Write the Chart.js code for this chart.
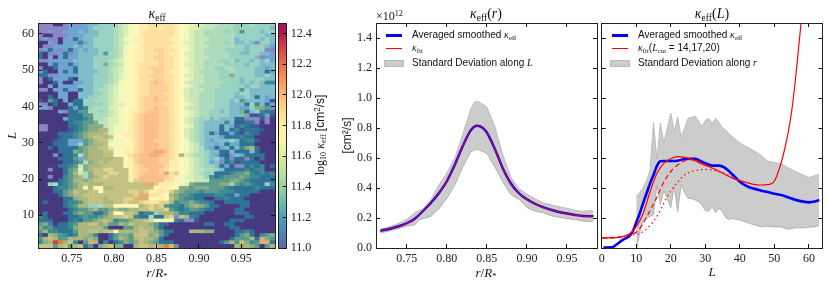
<!DOCTYPE html>
<html>
<head>
<meta charset="utf-8">
<script src="https://cdn.jsdelivr.net/npm/chart.js@4"></script>
<style>
body { margin: 0; background: #fff; width: 830px; height: 287px; overflow: hidden; position: relative; }
.box { position: absolute; top: 0; height: 287px; }
canvas { filter: blur(0.35px); }
.t { position: absolute; white-space: nowrap; color: #111; line-height: 1; }
.serif { font-family: "Liberation Serif", serif; }
.sans { font-family: "Liberation Sans", sans-serif; font-size: 10px; }
.title { font-size: 14px; top: 7px; transform: translateX(-50%); }
.xl { font-size: 13px; top: 266px; transform: translateX(-50%); }
i { font-style: italic; }
sub { font-size: .68em; vertical-align: -.28em; line-height: 0; font-family: "Liberation Serif", serif; }
sup { font-size: .68em; vertical-align: .45em; line-height: 0; }
.ln { position: absolute; }
</style>
</head>
<body>
<div class="box" style="left:0;width:278px"><canvas id="heat" width="278" height="287"></canvas></div>
<div class="box" style="left:278px;width:60px"><canvas id="cbar" width="60" height="287"></canvas></div>
<div class="box" style="left:338px;width:262px"><canvas id="byR" width="262" height="287"></canvas></div>
<div class="box" style="left:597px;width:233px"><canvas id="byL" width="233" height="287"></canvas></div>

<div class="t serif title" style="left:157px"><i>κ</i><sub>eff</sub></div>
<div class="t serif title" style="left:486px"><i>κ</i><sub>eff</sub>(<i>r</i>)</div>
<div class="t serif title" style="left:712px"><i>κ</i><sub>eff</sub>(<i>L</i>)</div>
<div class="t serif xl" style="left:157px"><i>r</i>/<i>R</i><sub>*</sub></div>
<div class="t serif xl" style="left:486px"><i>r</i>/<i>R</i><sub>*</sub></div>
<div class="t serif" style="left:376px;top:10px;font-size:12px">×10<sup>12</sup></div>
<div class="t serif" style="left:320px;top:135px;font-size:12px;transform:translate(-50%,-50%) rotate(-90deg)">log<sub>10</sub> <i>κ</i><sub>eff</sub> <span style="font-family:'Liberation Sans'">[cm<sup>2</sup>/s]</span></div>

<div class="ln" style="left:386px;top:34px;width:16px;height:2.5px;background:#00f"></div>
<div class="t sans" style="left:412px;top:30px">Averaged smoothed <i class="serif">κ</i><sub>eff</sub></div>
<div class="ln" style="left:386px;top:48px;width:16px;height:1px;background:#f00"></div>
<div class="t sans" style="left:412px;top:43px"><i class="serif">κ</i><sub>fit</sub></div>
<div class="ln" style="left:384px;top:60px;width:20px;height:7px;background:#ccc;border:1px solid #bbb;box-sizing:border-box"></div>
<div class="t sans" style="left:412px;top:58px">Standard Deviation along <i class="serif">L</i></div>

<div class="ln" style="left:612px;top:34px;width:16px;height:2.5px;background:#00f"></div>
<div class="t sans" style="left:638px;top:30px">Averaged smoothed <i class="serif">κ</i><sub>eff</sub></div>
<div class="ln" style="left:612px;top:48px;width:16px;height:1px;background:#f00"></div>
<div class="t sans" style="left:638px;top:43px"><i class="serif">κ</i><sub>fit</sub>(<i class="serif">L</i><sub>cut</sub> = 14,17,20)</div>
<div class="ln" style="left:610px;top:60px;width:20px;height:7px;background:#ccc;border:1px solid #bbb;box-sizing:border-box"></div>
<div class="t sans" style="left:638px;top:58px">Standard Deviation along <i class="serif">r</i></div>

<script>
// ---------- heatmap: one code per cell, rows go from L=62 down to L=1 ----------
var heatR = [0.7133,0.7192,0.7252,0.7311,0.7371,0.7430,0.7489,0.7549,0.7608,0.7668,0.7727,0.7787,0.7846,0.7906,0.7965,0.8025,0.8084,0.8143,0.8203,0.8262,0.8322,0.8381,0.8441,0.8500,0.8560,0.8619,0.8679,0.8738,0.8797,0.8857,0.8916,0.8976,0.9035,0.9095,0.9154,0.9214,0.9273,0.9333,0.9392,0.9451,0.9511,0.9570,0.9630,0.9689,0.9749,0.9808,0.9868];
var heatRows = [
"aaaAA abbbb ccddd efghi jjkkk kkjih hggff feeed ddedd dd",
"aaaaa abbbb cdddd efghi jjkkj kkjih ggfff eeeed ddddd dc",
"aabaa bbbcb ccddd efgii jkkkk kkjih gffee eeded Edddc dd",
"aAAaa abbbc ccddd efghi jkkkk kkjih gffee eeeed ddddd cc",
"abaaA bbCbc cdddd efhij jkkkk kjjih gfffe eeeec ddddc dc",
"AAbaA bbbDb cdddd efgij jkkkk kkjhg gffee eedec cdcad dc",
"Aaabb bbcbc cdddd efhii jkkkk kjjih gfffe eeeed dcddd cb",
"abCba bCbcb ccddd efhij jkkll kkjih gffee eeddd dcddd aa",
"CAaab Cabcc ccdEe efhii jkkkl kjjig gffee eeedd ccddc cb",
"CAbAb Cbbcc cdddd efhij jkkll kkjih gfffe eeedd dddca bb",
"aabbb bbccc cddde fghij jkkkl kkjih gffee eddec ddcdc db",
"AAbCb bCbcc cddFe efhij kkkkl kkjig gffee eeddd dcddc cc",
"aAACb bbCcc cddde fghij kklll kkjih gffee ddeed dddcc bc",
"bCAAb CbCcc ccdde fghij kkkll kjjih gfeee edded dddcc Cb",
"CCaab bbbcc cddde fghij kklll kkjig gffee eddFd dddcc dc",
"aACbb bCAcc cddde fghii kkkll kkjih gffee edddd cdddd cc",
"aAACb AAbbc cddde fhiij kklml kkjig fffee eeddd cdcdc DD",
"AAbAb bbbcc cddef ghiij kklll lkjih gfeee edddd dcddc cc",
"aaAbb CbbCc cdeef ghiij kklll lkjig fffee ddddd Edccc cc",
"AAAAb bAAcc cddef ghhij kklll kkjhg ffeee ddddc ddccc cc",
"AACAb bAAcc ddeef ghiij kllml lkjig ffeee ddddc cdcCc bc",
"BAECA bACCd deeef ghiij kllml lkjig ffeee dddcd Ecccc bB",
"aaACA AbCCd dddef gghii kllll kkjih gfeee dddcc cCdDc Cb",
"bbaAA ACbCD deeeg ghiij kllml lkjig ffeee dddcc bbdFF Ea",
"AAAAb aCCEE eedef ghijj klmml lkjih gfeed dcdcc FCcdD CC",
"AAAAA ACCCE Eeeef ghijk lmmml lkjih gfeed dddcc cFBBC bB",
"AAAAA bCCCD Eeefg ghijk lmmml lkjig fedec dcccC CaaaB aA",
"AAAAA ACDDE EFffg ghijk lmmml lkjig fedcc ccDcB BCCaA aA",
"aaAAA ACCDE FFFfg hhijk lmmml lkjih gedcc cCcbC DCBBA AA",
"aaAAA ABCDE FFGGg hhijk lmmml lkjig fedcc cCcCD BCCCB AA",
"AAAAC CCDEF GGGHg hijjk lmmml lkjig fedcC bCCbC BDCCA AA",
"AAAAB CCDEF GHHGH hijjk lmmml lkjig fedcc cbCCC DCCAA AA",
"AAABC CbbbE FGHHg hhijk lmmll lkjih fedcb cccdc CDDBA AA",
"AAACC CbbdE FGGHh hhiik lmmml lkjih gfdcc bcCbb CCCAA AA",
"AACAC CCCEF GGHHg hijjk lmmml lkjih gfecb CbcCc DFGCA AA",
"AAAAC CCFEF GGGHH hijjk lmmnn mkjih gfedc cCCcC CCcCA AA",
"AAAaA CCDeF GGGHH iijkl mmnnm lkjGg feedc bCBbc bCCCC AA",
"AAAAC CCEbF GGGGG HHijl mmmml lkjih gfedc dbCaC CaCAC AA",
"AAAAA CCDEe FGHGH HHijl mmmml ljjih gfedb caCDB CCCCA AA",
"AAAAC CDEfF GGGHH HHijk lmmmm ljjih gfedd cCbBa aCDCD AC",
"AAaAA CEFgF GHHII HHHjk llmml kjjih gffee dcCCC CDCDD AA",
"AAAAA CEGfe FHHHI IHHjk lmmml JkIih gfedd CCCDE EFDCD CD",
"AAaAA DEFGe FGHIH HHHjk mmmmm lkjhg gffdD CDEEE FEDDC CC",
"AAAAC DEGGF GHHHH HHHjI mmmmm kkjih gfffE EEEFF EDCCC CC",
"AAdeC DEFGH GGGHH HHHHH HJJIj jjihg FEEEE EFFdE DEDCC dD",
"AAACD DEFGh GiiGG HHHHH HHHij jihFF EFFFE EEDCC CCCDC CC",
"AAACC EFHGG HHiHH HHHII HIjjk jIGFE EEDEE EDDDC CCCCA AA",
"AAAAC EFGGH HHHHH HHHHI JJkkj iGFEE DCCCC DDCCb CCAAA AA",
"AAAAA CCFGG HHHGH HHIIJ JJiij iHFED DCCAA CCDCC CAAAA AA",
"ACAAA CDDEG HHHGG HHIHH IkkkI IGDEE FEDDC AACCC CCAAA AA",
"AAAAA CDEGG ddeHH iiiii GHIHI EDDCE FGFEC CAAAA CCAAA AA",
"AAAAA ACDEE FGEEF GFFGG HHIHH IEDCD EEDCC AAAAC CAAAA AA",
"ACAAA CCEFE ECCEG iiHHG CDDdG GGFDD CCCAA AAAAC CCAAA AA",
"DCAAA ACCDE DDEFG HHIHD CCeCC HIaHG DCAAA AAAAA ACCAA AA",
"CCCAA ACDCE EFGHG DEEFG GHIii iiDCa aBAAA AAACC CAAAA AA",
"EFDAC CDEGG HHFGE EGFHG GGFEC CAAAA AAACC AACCA AAAAA AA",
"FDECC CDFGG GGGEA AAEEG HGGEC AAAAA AAAAA AAACC AAAAA AA",
"EGDDC CCEGG HHGHH iGGGG HHGFE CCAAA GGGFF AAAAC CDCAA AA",
"CAGFE DCDGG FDAAC EFFEH HHFGE CAAAA AAAAA AAAAC EFCAD EF",
"EGHGE EGGGF GFAAC EGFEG HGGFC AAAAA AAAAA AAACE EEGCJ FE",
"DFGRS GHDAE JGADA CDFEF HGFEC CCAAA AAAAA ACEGE HFDEJ JC",
"HHHEG HEGHC EAFGH FFAAG HHGJG SJEAA AAAAA AAAAG FGFEA EG"
];
var heatColors = {
  a:"#8a86c6", b:"#6fa4d2", c:"#7fbcca", d:"#98d2c2", e:"#acdcbc", f:"#c4e6b8", g:"#dcf0b4",
  h:"#f0f8bc", i:"#fcf8bc", j:"#feeeb0", k:"#fee0a0", l:"#fdd09a", m:"#fbbf8c", n:"#f8aa78",
  A:"#47397f", B:"#3d5a94", C:"#2f7396", D:"#3b8a90", E:"#5c9a8c", F:"#86ab85", G:"#aab87f",
  H:"#c4c283", I:"#e0d48c", J:"#ddb070", R:"#c8403c", S:"#e08040"
};
var cbarStops = [[11.0,"#6a62aa"],[11.1,"#4c86b8"],[11.2,"#4fa0b8"],[11.3,"#6cbfae"],[11.4,"#96d2a8"],[11.5,"#bde2a0"],[11.6,"#dcec9c"],[11.7,"#f2f6a8"],[11.8,"#fdf0a0"],[11.9,"#fdd98c"],[12.0,"#fbb872"],[12.1,"#f79658"],[12.2,"#ee6e48"],[12.3,"#d84450"],[12.4,"#b81a50"],[12.47,"#a0184f"]];

// ---------- kappa(r), units of 1e12 ----------
var rVals   = [0.717,0.73,0.74,0.75,0.76,0.77,0.78,0.79,0.80,0.81,0.82,0.83,0.838,0.845,0.85,0.86,0.87,0.88,0.89,0.90,0.91,0.92,0.93,0.94,0.95,0.96,0.97,0.98,0.983];
var rMean   = [0.115,0.13,0.145,0.165,0.195,0.245,0.30,0.365,0.445,0.555,0.68,0.785,0.815,0.80,0.77,0.66,0.53,0.43,0.365,0.325,0.295,0.272,0.255,0.24,0.23,0.22,0.213,0.212,0.213];
var rFit    = [0.115,0.13,0.145,0.165,0.195,0.245,0.30,0.365,0.445,0.555,0.68,0.785,0.815,0.80,0.77,0.66,0.53,0.43,0.365,0.325,0.295,0.272,0.255,0.24,0.23,0.22,0.213,0.212,0.213];
var rBandX  = [0.717,0.73,0.74,0.75,0.76,0.765,0.77,0.78,0.79,0.80,0.81,0.82,0.83,0.835,0.84,0.85,0.86,0.87,0.88,0.89,0.90,0.91,0.92,0.93,0.94,0.95,0.96,0.97,0.98,0.983];
var rUpper  = [0.125,0.145,0.165,0.19,0.235,0.25,0.26,0.32,0.42,0.50,0.60,0.76,0.93,0.975,0.975,0.94,0.81,0.62,0.47,0.395,0.36,0.33,0.30,0.29,0.275,0.265,0.25,0.245,0.25,0.245];
var rLower  = [0.10,0.115,0.13,0.145,0.155,0.185,0.195,0.21,0.26,0.33,0.42,0.54,0.64,0.655,0.655,0.63,0.54,0.44,0.355,0.325,0.27,0.245,0.235,0.215,0.205,0.195,0.19,0.18,0.175,0.18];

// ---------- kappa(L) ----------
var lMeanX  = [0.5,3,4,6,8,9,10,11,12,13,14,15,16,17,18,20,22,24,26,27,28,30,32,34,36,38,40,42,44,46,48,50,52,54,56,58,60,62,63];
var lMean   = [0.003,0.004,0.018,0.053,0.08,0.11,0.17,0.23,0.30,0.365,0.43,0.487,0.547,0.578,0.58,0.58,0.582,0.593,0.595,0.595,0.587,0.565,0.549,0.549,0.529,0.487,0.442,0.413,0.396,0.384,0.373,0.362,0.353,0.338,0.322,0.311,0.304,0.311,0.32];
var fit14X  = [0,4,6,8,10,12,14,16,18,20,22,24,26,28,30,32,34,36,38,40,42,44,46,48,50,51,52,53,54,55,56,57,58];
var fit14   = [0.067,0.069,0.076,0.093,0.142,0.23,0.375,0.498,0.564,0.595,0.609,0.604,0.591,0.571,0.551,0.533,0.511,0.487,0.464,0.449,0.436,0.424,0.42,0.422,0.445,0.50,0.57,0.66,0.77,0.91,1.10,1.33,1.56];
var fit17X  = [0,4,8,10,12,14,16,18,20,22,24,26,28,30,32];
var fit17   = [0.067,0.069,0.09,0.105,0.164,0.25,0.34,0.44,0.51,0.553,0.58,0.589,0.578,0.555,0.535];
var fit20X  = [0,4,8,10,12,14,16,18,20,22,24,26,28,30,32,34,36,38];
var fit20   = [0.067,0.069,0.085,0.09,0.11,0.15,0.21,0.30,0.38,0.44,0.487,0.51,0.52,0.524,0.52,0.51,0.493,0.469];
var lBandX  = [10,11,12,13,14,15,16,17,18,19,20,21,22,23,24,25,26,27,28,29,30,31,32,33,34,35,36,37,38,39,40,42,44,46,48,50,52,54,56,58,60,62,63];
var lUpper  = [0.34,0.37,0.40,0.45,0.52,0.835,0.59,0.835,0.70,0.80,0.90,0.775,0.875,0.74,0.80,0.865,0.87,0.88,0.85,0.81,0.85,0.865,0.83,0.865,0.835,0.80,0.785,0.76,0.74,0.72,0.70,0.675,0.65,0.62,0.58,0.57,0.56,0.535,0.51,0.49,0.47,0.485,0.49];
var lLower  = [-0.02,0.10,0.18,0.20,0.21,0.22,0.42,0.29,0.38,0.33,0.267,0.41,0.24,0.42,0.37,0.33,0.33,0.32,0.31,0.287,0.25,0.245,0.275,0.235,0.265,0.24,0.20,0.19,0.198,0.19,0.187,0.17,0.155,0.142,0.145,0.14,0.14,0.124,0.135,0.133,0.138,0.142,0.15];

var serif = { family: '"Liberation Serif", serif', size: 12 };
var BLUE = "#0000ff", RED = "#ff0000", BAND = "rgba(128,128,128,0.4)", BAND_EDGE = "#b4b4b4";

function pts(xs, ys) {
  return xs.map(function(x, i) { return { x: x, y: ys[i] }; });
}
// fixed axis size, and no extra room for the first and last tick label
function pin(size) {
  return function(s) {
    if (s.isHorizontal()) s.height = size; else s.width = size;
    s.paddingLeft = s.paddingRight = s.paddingTop = s.paddingBottom = 0;
  };
}
// matplotlib look: inward ticks and a frame on top of the marks
function axis(pos, size, min, max, step, digits, hideLabels, title) {
  var o = {
    type: "linear", position: pos, min: min, max: max, afterFit: pin(size), offset: false,
    grid: { drawOnChartArea: false, tickLength: -4, color: "#111", z: 1, offset: false },
    border: { color: "#222", width: 1, z: 1 },
    ticks: {
      display: !hideLabels, stepSize: step, includeBounds: false, autoSkip: false,
      maxRotation: 0, font: serif, color: "#222", padding: 8,
      callback: function(v) { return v.toFixed(digits); }
    }
  };
  if (title) o.title = title;
  return o;
}
function lineSet(data, color, width, extra) {
  return Object.assign({
    data: data, borderColor: color, borderWidth: width, pointRadius: 0,
    fill: false, cubicInterpolationMode: "monotone"
  }, extra || {});
}
function bandSets(xs, up, low) {
  var edge = { backgroundColor: BAND, cubicInterpolationMode: "default", tension: 0 };
  return [
    lineSet(pts(xs, up), BAND_EDGE, 0.8, Object.assign({ fill: "+1" }, edge)),
    lineSet(pts(xs, low), BAND_EDGE, 0.8, edge)
  ];
}
var base = { responsive: false, animation: false, devicePixelRatio: 1, plugins: { legend: { display: false }, tooltip: { enabled: false } } };
function opts(pad, scales) {
  return Object.assign({}, base, { layout: { padding: pad }, scales: scales });
}
var italic13 = { family: serif.family, size: 13, style: "italic" };

// heatmap
var cells = [], cellColors = [];
heatRows.forEach(function(row, i) {
  var codes = row.replace(/ /g, "");
  for (var c = 0; c < codes.length; c++) {
    cells.push({ x: heatR[c], y: [62 - i, 63 - i] });
    cellColors.push(heatColors[codes[c]]);
  }
});
new Chart(document.getElementById("heat"), {
  type: "bar",
  data: { datasets: [{ data: cells, backgroundColor: cellColors, borderWidth: 0, barPercentage: 1, categoryPercentage: 1 }] },
  options: opts({ top: 23, right: 3 }, {
    x: axis("bottom", 39, 0.7103, 0.9897, 0.05, 2, false),
    y: axis("left", 38, 1, 63, 10, 0, false, { display: true, text: "L", font: italic13, color: "#222", padding: { top: 5, bottom: 0 } }),
    xTop: axis("top", 0, 0.7103, 0.9897, 0.05, 2, true),
    yRight: axis("right", 0, 1, 63, 10, 0, true)
  })
});

// colorbar
new Chart(document.getElementById("cbar"), {
  type: "bar",
  data: {
    labels: [""],
    datasets: [{
      data: [[11.0, 12.47]], yAxisID: "y", borderWidth: 0, barPercentage: 1, categoryPercentage: 1,
      backgroundColor: function(ctx) {
        var a = ctx.chart.chartArea;
        if (!a) return "#ccc";
        var g = ctx.chart.ctx.createLinearGradient(0, a.bottom, 0, a.top);
        cbarStops.forEach(function(s) { g.addColorStop(Math.min(1, (s[0] - 11) / 1.47), s[1]); });
        return g;
      }
    }]
  },
  options: opts({ top: 23, bottom: 39, left: 0.5 }, {
    x: { position: "bottom", afterFit: pin(0), grid: { display: false }, ticks: { display: false }, border: { color: "#222", z: 1 } },
    xTop: { type: "linear", position: "top", afterFit: pin(0), grid: { display: false }, ticks: { display: false }, border: { color: "#222", z: 1 } },
    yLeft: { type: "linear", position: "left", min: 11, max: 12.47, afterFit: pin(0), grid: { display: false }, ticks: { display: false }, border: { color: "#222", z: 1 } },
    y: axis("right", 51.3, 11, 12.47, 0.2, 1, false)
  })
});

// kappa(r)
new Chart(document.getElementById("byR"), {
  type: "line",
  data: { datasets: [
    lineSet(pts(rVals, rFit), RED, 1),
    lineSet(pts(rVals, rMean), BLUE, 2.4)
  ].concat(bandSets(rBandX, rUpper, rLower)) },
  options: opts({ top: 23, right: 3 }, {
    x: axis("bottom", 39, 0.7116, 0.9875, 0.05, 2, false),
    y: axis("left", 38, 0, 1.5, 0.2, 1, false, { display: true, text: "[cm²/s]", font: { family: '"Liberation Sans", sans-serif', size: 12 }, color: "#222", padding: { top: 2, bottom: 0 } }),
    xTop: axis("top", 0, 0.7116, 0.9875, 0.05, 2, true),
    yRight: axis("right", 0, 0, 1.5, 0.2, 1, true)
  })
});

// kappa(L)
new Chart(document.getElementById("byL"), {
  type: "line",
  data: { datasets: [
    lineSet(pts(fit14X, fit14), RED, 1.2),
    lineSet(pts(fit17X, fit17), RED, 1.2, { borderDash: [5, 3] }),
    lineSet(pts(fit20X, fit20), RED, 1.2, { borderDash: [1.5, 3] }),
    lineSet(pts(lMeanX, lMean), BLUE, 2.6)
  ].concat(bandSets(lBandX, lUpper, lLower)) },
  options: opts({ top: 23, left: 4.7, right: 7.3 }, {
    x: axis("bottom", 39, 0, 64, 10, 0, false, { display: true, text: "L", font: italic13, color: "#222", padding: { top: 0, bottom: 7 } }),
    y: axis("left", 0, 0, 1.5, 0.2, 1, true),
    xTop: axis("top", 0, 0, 64, 10, 0, true),
    yRight: axis("right", 0, 0, 1.5, 0.2, 1, true)
  })
});
</script>
</body>
</html>
